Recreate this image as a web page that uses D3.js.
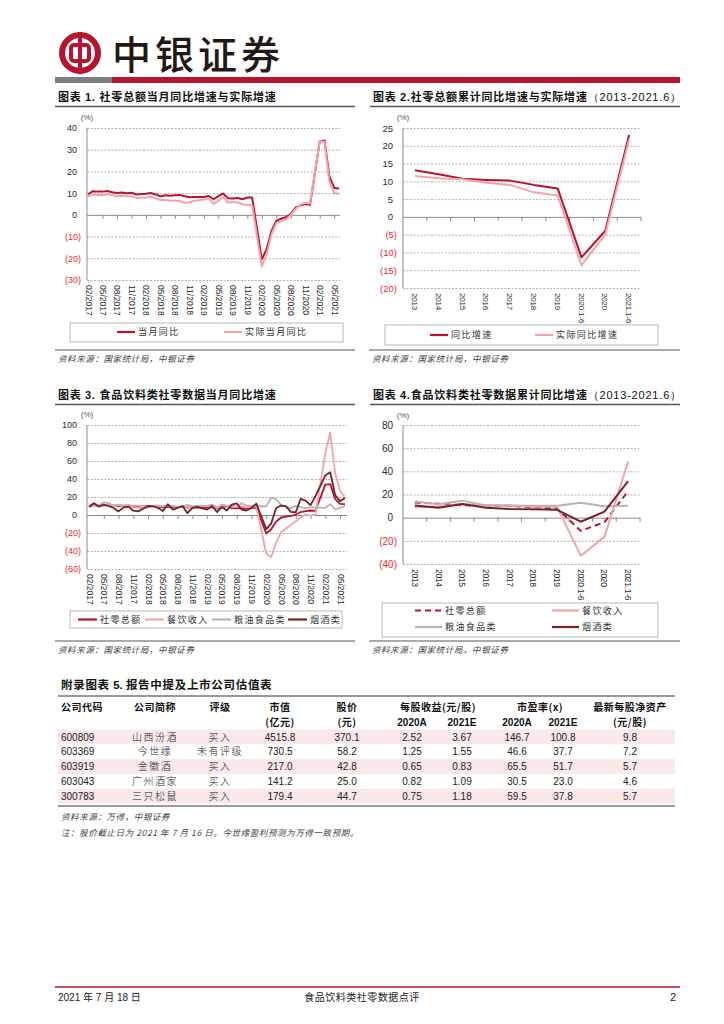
<!DOCTYPE html>
<html><head><meta charset="utf-8">
<script src="https://cdn.jsdelivr.net/npm/d3@7/dist/d3.min.js"></script>
<style>
html,body{margin:0;padding:0;background:#fff;}
svg{display:block}
text{font-family:"Liberation Sans",Arial,"Noto Sans CJK SC",sans-serif;}
</style></head><body>
<script>
// ================= DATA =================
const months=["02/2017","03/2017","04/2017","05/2017","06/2017","07/2017","08/2017","09/2017","10/2017","11/2017","12/2017",
"01/2018","02/2018","03/2018","04/2018","05/2018","06/2018","07/2018","08/2018","09/2018","10/2018","11/2018","12/2018",
"01/2019","02/2019","03/2019","04/2019","05/2019","06/2019","07/2019","08/2019","09/2019","10/2019","11/2019","12/2019",
"01/2020","02/2020","03/2020","04/2020","05/2020","06/2020","07/2020","08/2020","09/2020","10/2020","11/2020","12/2020",
"01/2021","02/2021","03/2021","04/2021","05/2021","06/2021"];
const monthTicks=["02/2017","05/2017","08/2017","11/2017","02/2018","05/2018","08/2018","11/2018","02/2019","05/2019","08/2019","11/2019","02/2020","05/2020","08/2020","11/2020","02/2021","05/2021"];

// Chart 1: 社零总额当月同比 / 实际当月同比
const retailMonthly=[9.5,10.9,10.7,10.7,11.0,10.4,10.1,10.3,10.0,10.2,9.4,
 null,9.7,10.1,9.4,8.5,9.0,8.8,9.0,9.2,8.6,8.1,8.2,
 null,8.2,8.7,7.2,8.6,9.8,7.6,7.5,7.8,7.2,8.0,8.0,
 null,-20.5,-15.8,-7.5,-2.8,-1.8,-1.1,0.5,3.3,4.3,5.0,4.6,
 null,33.8,34.2,17.7,12.4,12.1];
const realMonthly=[8.5,9.4,9.1,9.1,9.5,9.0,8.6,8.8,8.6,8.6,7.8,
 null,8.0,8.4,7.6,6.8,7.0,6.5,6.5,6.4,5.6,5.8,6.5,
 null,7.1,7.6,5.1,6.4,8.2,5.7,5.8,5.8,4.9,4.6,4.5,
 null,-23.7,-18.1,-9.1,-3.7,-3.0,-2.1,0.0,2.7,4.6,5.6,5.2,
 null,34.0,33.6,15.5,10.1,9.7];

// Chart 2: 累计同比 (annual)
const annualCats=["2013","2014","2015","2016","2017","2018","2019","2020.1-6","2020","2021.1-6"];
const cumNominal=[13.1,12.0,10.7,10.4,10.2,9.0,8.0,-11.4,-3.9,23.0];
const cumReal=[11.5,10.9,10.6,9.6,9.0,6.9,6.0,-13.6,-4.9,21.8];

// Chart 3: 食品饮料类当月同比
const cateringMonthly=[10.4,11.1,10.7,11.0,11.5,11.0,11.4,10.3,11.1,10.4,10.5,
 null,8.8,10.1,9.6,9.9,10.2,9.5,9.1,9.4,9.1,8.6,10.5,
 null,9.7,9.9,7.8,10.4,10.4,8.9,9.0,9.6,8.4,9.0,9.4,
 null,-43.1,-46.8,-31.1,-18.9,-15.2,-11.0,-7.0,-2.9,0.8,-0.6,0.4,
 null,68.9,91.6,46.4,26.6,20.0];
const grainMonthly=[10.3,12.9,10.8,14.0,13.2,9.9,11.6,9.4,9.8,8.4,8.0,
 null,8.3,10.3,10.5,9.5,9.9,10.0,8.9,9.4,11.3,9.7,10.2,
 null,10.1,11.7,8.2,11.8,10.0,10.4,9.2,13.1,10.3,10.5,9.7,
 null,9.7,19.2,17.5,11.3,9.5,7.7,10.2,8.7,7.7,8.5,8.4,
 null,8.0,12.0,6.3,8.0,10.2];
const tobaccoMonthly=[8.9,13.0,9.3,11.5,10.0,7.8,4.0,8.5,9.3,4.8,4.0,
 null,10.0,9.5,8.0,4.4,12.0,6.0,8.0,10.0,2.0,8.0,9.0,
 null,6.0,10.0,3.3,9.0,5.0,11.5,13.0,6.0,5.0,8.0,12.6,
 null,-15.7,-9.5,7.5,10.5,9.5,3.5,3.0,18.0,16.0,11.0,21.0,
 null,44.0,47.5,22.0,15.5,19.0];

// Chart 4: 食品饮料类累计同比 (annual)
const retailCum=[13.1,12.0,10.7,10.4,10.2,9.0,8.0,-11.4,-3.9,23.0];
const cateringCum=[9.0,9.7,11.7,10.8,10.7,9.5,9.4,-32.8,-16.6,48.6];
const grainCum=[14.0,11.5,14.7,10.5,10.2,10.2,10.2,12.8,9.9,10.2];
const tobaccoCum=[10.6,8.6,11.8,8.6,7.4,7.2,6.8,-3.5,5.2,31.6];

// tick labels
const yTicks1=[-30,-20,-10,0,10,20,30,40];
const yTicks2=[-20,-15,-10,-5,0,5,10,15,20,25];
const yTicks3=[-60,-40,-20,0,20,40,60,80,100];
const yTicks4=[-40,-20,0,20,40,60,80];

// Table 5
const tblCodes=["600809","603369","603919","603043","300783"];
const tblNames=["山西汾酒","今世缘","金徽酒","广州酒家","三只松鼠"];
const tblRatings=["买入","未有评级","买入","买入","买入"];
const tblMktCap=[4515.8,730.5,217.0,141.2,179.4];
const tblPrice=[370.1,58.2,42.8,25.0,44.7];
const tblEps2020=[2.52,1.25,0.65,0.82,0.75];
const tblEps2021=[3.67,1.55,0.83,1.09,1.18];
const tblPe2020=[146.7,46.6,65.5,30.5,59.5];
const tblPe2021=[100.8,37.7,51.7,23.0,37.8];
const tblBvps=[9.8,7.2,5.7,4.6,5.7];

// ================= DRAW =================
const RED="#b8132f", PINK="#f3a4aa", GRAY="#b5b5b5", BROWN="#7a1f27";
const CN='"Noto Sans CJK SC",sans-serif';
const LAT='"Liberation Sans",Arial,sans-serif';
const svg=d3.select("body").append("svg").attr("width",724).attr("height",1024);

// ---- header ----
const logo=svg.append("g");
logo.append("circle").attr("cx",80).attr("cy",53).attr("r",18).attr("fill","none").attr("stroke",RED).attr("stroke-width",6);
logo.append("rect").attr("x",71).attr("y",45).attr("width",18).attr("height",16).attr("rx",3).attr("fill","none").attr("stroke",RED).attr("stroke-width",4);
logo.append("line").attr("x1",80).attr("x2",80).attr("y1",32).attr("y2",74).attr("stroke",RED).attr("stroke-width",4);
svg.append("text").attr("x",112).attr("y",69).attr("font-size",39).attr("letter-spacing",4)
  .style("font-family",CN).attr("font-weight",500).attr("fill","#231815").text("中银证券");
svg.append("rect").attr("x",55).attr("y",77).attr("width",625).attr("height",6).attr("fill",RED);
svg.append("rect").attr("x",55).attr("y",77).attr("width",57).attr("height",6).attr("fill","#7f7f7f");

// ---- section titles ----
function title(x,y,parts,x2){
  const t=svg.append("text").attr("x",x).attr("y",y).attr("font-size",11).attr("fill","#111");
  parts.forEach(p=>t.append("tspan").attr("font-weight",p[1]?700:400).style("font-family",p[2]||CN).attr("letter-spacing",p[3]||0.8).text(p[0]));
  svg.append("line").attr("x1",x-3).attr("x2",x2).attr("y1",y+5.5).attr("y2",y+5.5).attr("stroke","#555").attr("stroke-width",1.3);
}
title(58,101,[["图表 ",1],["1. ",1,LAT,0],["社零总额当月同比增速与实际增速",1]],355);
title(373,101,[["图表 ",1],["2.",1,LAT,0],["社零总额累计同比增速与实际增速",1],["（2013-2021.6）",0,LAT,0]],680);
title(58,399,[["图表 ",1],["3. ",1,LAT,0],["食品饮料类社零数据当月同比增速",1]],355);
title(373,399,[["图表 ",1],["4.",1,LAT,0],["食品饮料类社零数据累计同比增速",1],["（2013-2021.6）",0,LAT,0]],680);

function fmtY(v){return v<0?"("+(-v)+")":String(v);}

function frame(cfg,y){
  const w=cfg.right-cfg.left;
  const grid=svg.append("g").attr("transform",`translate(${cfg.left},0)`)
    .call(d3.axisLeft(y).tickValues(cfg.yTicks).tickSize(-w).tickFormat(""));
  grid.select(".domain").remove();
  grid.selectAll(".tick line").attr("stroke",d=>d===0?"#8c8c8c":"#9d9d9d").attr("stroke-width",d=>d===0?1:0.8)
    .attr("stroke-dasharray",d=>d===0?null:"2,1.5");
  svg.append("line").attr("x1",cfg.left).attr("x2",cfg.left)
    .attr("y1",y(d3.max(cfg.yTicks))).attr("y2",y(d3.min(cfg.yTicks))).attr("stroke","#8c8c8c");
  const yl=svg.append("g").attr("transform",`translate(${cfg.left},0)`)
    .call(d3.axisLeft(y).tickValues(cfg.yTicks).tickSize(0).tickPadding(0).tickFormat(fmtY));
  yl.attr("font-size",cfg.yFont).attr("font-family",LAT);
  yl.select(".domain").remove();
  yl.selectAll("text").attr("x",d=>d<0?-6:-10).attr("fill",d=>d<0?"#f0282d":"#2b2b2b");
  svg.append("text").attr("x",cfg.left).attr("y",cfg.unitY).attr("text-anchor","middle")
    .attr("font-size",8).attr("fill","#555").text("(%)");
}
function xLabels(x,ticks,yPos,size,ls){
  const xl=svg.append("g").attr("transform",`translate(0,${yPos})`)
    .call(d3.axisBottom(x).tickValues(ticks).tickSize(0).tickPadding(0));
  xl.attr("font-size",size).attr("font-family",LAT);
  xl.select(".domain").remove();
  xl.selectAll("text").attr("transform","rotate(90)").attr("x",4).attr("y",0).attr("dy","0.35em")
    .attr("text-anchor","start").attr("letter-spacing",ls||0).attr("fill","#2b2b2b");
}
function monthChart(cfg){
  const y=d3.scaleLinear().domain(d3.extent(cfg.yTicks)).range([cfg.bottom,cfg.top]);
  const x=d3.scalePoint().domain(months).range(cfg.xRange);
  frame(cfg,y);
  const tk=svg.append("g").attr("transform",`translate(0,${y(0)})`)
    .call(d3.axisBottom(x).tickValues(monthTicks.slice(1)).tickSize(4).tickFormat(""));
  tk.select(".domain").remove();
  tk.selectAll("line").attr("stroke","#8c8c8c");
  xLabels(x,monthTicks,cfg.bottom+1,cfg.xFont,cfg.xLs);
  const line=d3.line().x(d=>x(d.m)).y(d=>y(d.v));
  cfg.series.forEach(s=>{
    const pts=months.map((m,i)=>({m,v:s.values[i]})).filter(d=>d.v!==null);
    svg.append("path").datum(pts).attr("d",line).attr("fill","none").attr("stroke",s.color)
      .attr("stroke-width",s.width).attr("stroke-linejoin","round").attr("stroke-dasharray",s.dash||null);
  });
}
function annualChart(cfg){
  const y=d3.scaleLinear().domain(d3.extent(cfg.yTicks)).range([cfg.bottom,cfg.top]);
  const x=d3.scaleBand().domain(annualCats).range([cfg.left,cfg.right]);
  frame(cfg,y);
  svg.append("g").selectAll("line").data(annualCats.slice(1).concat(["_end"])).join("line")
    .attr("x1",d=>d==="_end"?cfg.right:x(d)).attr("x2",d=>d==="_end"?cfg.right:x(d))
    .attr("y1",y(0)).attr("y2",y(0)+4).attr("stroke","#8c8c8c");
  xLabels(x,annualCats,cfg.bottom+1,cfg.xFont,cfg.xLs);
  const line=d3.line().x(d=>x(d.c)+x.bandwidth()/2).y(d=>y(d.v));
  cfg.series.forEach(s=>{
    const pts=annualCats.map((c,i)=>({c,v:s.values[i]}));
    svg.append("path").datum(pts).attr("d",line).attr("fill","none").attr("stroke",s.color)
      .attr("stroke-width",s.width).attr("stroke-linejoin","round").attr("stroke-dasharray",s.dash||null);
  });
}
function legend(box,items){
  svg.append("rect").attr("x",box[0]).attr("y",box[1]).attr("width",box[2]-box[0]).attr("height",box[3]-box[1])
    .attr("fill","none").attr("stroke","#a6a6a6").attr("stroke-width",0.8);
  items.forEach(it=>{
    svg.append("line").attr("x1",it.x).attr("x2",it.x+it.len).attr("y1",it.y).attr("y2",it.y)
      .attr("stroke",it.color).attr("stroke-width",2.2).attr("stroke-dasharray",it.dash||null);
    svg.append("text").attr("x",it.x+it.len+3).attr("y",it.y+3.3).attr("font-size",9).style("font-family",CN)
      .attr("letter-spacing",1.4).attr("fill","#333").text(it.label);
  });
}
function source(x,y,x2,txt){
  svg.append("line").attr("x1",x-3).attr("x2",x2).attr("y1",y-12).attr("y2",y-12).attr("stroke","#555").attr("stroke-width",1);
  svg.append("text").attr("x",x).attr("y",y).attr("font-size",8.5).style("font-family",CN).attr("font-style","italic")
    .attr("fill","#444").attr("letter-spacing",0.6).text(txt);
}

// Chart 1
monthChart({left:87,right:340,top:128,bottom:280,xRange:[88,339],yTicks:yTicks1,yFont:9,xFont:8.5,unitY:120,
  series:[{values:retailMonthly,color:RED,width:2},{values:realMonthly,color:PINK,width:2}]});
legend([70,323,343,342],[{x:117,y:332,len:18,color:RED,label:"当月同比"},{x:224,y:332,len:18,color:PINK,label:"实际当月同比"}]);
source(58,362,355,"资料来源：国家统计局，中银证券");

// Chart 2
annualChart({left:403,right:641,top:128,bottom:288,yTicks:yTicks2,yFont:9.5,xFont:8,xLs:-0.2,unitY:120,
  series:[{values:cumNominal,color:RED,width:2},{values:cumReal,color:PINK,width:2}]});
legend([385,325,658,345],[{x:430,y:335,len:18,color:RED,label:"同比增速"},{x:535,y:335,len:18,color:PINK,label:"实际同比增速"}]);
source(372,362,680,"资料来源：国家统计局，中银证券");

// Chart 3
monthChart({left:87,right:347,top:425,bottom:569,xRange:[89,345],yTicks:yTicks3,yFont:9,xFont:8.5,unitY:417,
  series:[{values:retailMonthly,color:RED,width:1.8},{values:cateringMonthly,color:PINK,width:1.8},
          {values:grainMonthly,color:GRAY,width:1.8},{values:tobaccoMonthly,color:BROWN,width:1.8}]});
legend([70,611,342,628],[{x:78,y:619.5,len:19,color:RED,label:"社零总额"},{x:145,y:619.5,len:19,color:PINK,label:"餐饮收入"},
  {x:212,y:619.5,len:19,color:GRAY,label:"粮油食品类"},{x:288,y:619.5,len:19,color:BROWN,label:"烟酒类"}]);
source(58,653,355,"资料来源：国家统计局，中银证券");

// Chart 4
annualChart({left:403,right:640,top:425,bottom:564,yTicks:yTicks4,yFont:10,xFont:8.5,xLs:-0.3,unitY:418,
  series:[{values:retailCum,color:RED,width:2,dash:"6,4"},{values:cateringCum,color:PINK,width:2},
          {values:grainCum,color:GRAY,width:2},{values:tobaccoCum,color:BROWN,width:2}]});
legend([382,603,658,637],[{x:415,y:610.5,len:27,color:RED,dash:"6,4",label:"社零总额"},{x:552,y:610.5,len:27,color:PINK,label:"餐饮收入"},
  {x:415,y:627,len:27,color:GRAY,label:"粮油食品类"},{x:552,y:627,len:27,color:BROWN,label:"烟酒类"}]);
source(372,653,680,"资料来源：国家统计局，中银证券");

// ---- Table ----
svg.append("text").attr("x",61).attr("y",689).attr("font-size",11.5).attr("fill","#111")
  .call(t=>{t.append("tspan").style("font-family",CN).attr("font-weight",700).attr("letter-spacing",0.7).text("附录图表 ");
           t.append("tspan").attr("font-weight",700).text("5. ");
           t.append("tspan").style("font-family",CN).attr("font-weight",700).attr("letter-spacing",0.7).text("报告中提及上市公司估值表");});
svg.append("line").attr("x1",58).attr("x2",675).attr("y1",696).attr("y2",696).attr("stroke","#777").attr("stroke-width",1.5);
const rowY=d3.scaleBand().domain(d3.range(tblCodes.length)).range([729.5,803.5]);
svg.append("g").selectAll("rect").data(d3.range(tblCodes.length).filter(i=>i%2===0)).join("rect")
  .attr("x",58).attr("width",617).attr("y",i=>rowY(i)).attr("height",rowY.bandwidth()).attr("fill","#fbe8ea");
svg.append("line").attr("x1",58).attr("x2",675).attr("y1",806).attr("y2",806).attr("stroke","#777").attr("stroke-width",1.5);
function hdr(x,y,txt,anchor,lat){
  svg.append("text").attr("x",x).attr("y",y).attr("font-size",10).attr("font-weight",700).attr("text-anchor",anchor||"middle")
    .style("font-family",lat?LAT:CN).attr("fill","#111").attr("letter-spacing",lat?0:0.5).text(txt);
}
hdr(61,711,"公司代码","start");hdr(155,711,"公司简称");hdr(220,711,"评级");
hdr(280,711,"市值");hdr(280,726,"(亿元)");hdr(347,711,"股价");hdr(347,726,"(元)");
hdr(438,711,"每股收益(元/股)");hdr(412,726,"2020A","middle",true);hdr(462,726,"2021E","middle",true);
hdr(540,711,"市盈率(x)");hdr(517,726,"2020A","middle",true);hdr(563,726,"2021E","middle",true);
hdr(630,711,"最新每股净资产");hdr(630,726,"(元/股)");
const cols=[
  {vals:tblCodes,x:61,anchor:"start",cn:false},
  {vals:tblNames,x:155,cn:true},
  {vals:tblRatings,x:220,cn:true},
  {vals:tblMktCap.map(v=>v.toFixed(1)),x:280},
  {vals:tblPrice.map(v=>v.toFixed(1)),x:347},
  {vals:tblEps2020.map(v=>v.toFixed(2)),x:412},
  {vals:tblEps2021.map(v=>v.toFixed(2)),x:462},
  {vals:tblPe2020.map(v=>v.toFixed(1)),x:517},
  {vals:tblPe2021.map(v=>v.toFixed(1)),x:563},
  {vals:tblBvps.map(v=>v.toFixed(1)),x:630}];
cols.forEach(c=>{
  svg.append("g").selectAll("text").data(c.vals).join("text")
    .attr("x",c.x).attr("y",(d,i)=>rowY(i)+rowY.bandwidth()/2+3.6).attr("text-anchor",c.anchor||"middle")
    .attr("font-size",10).style("font-family",c.cn?CN:LAT).attr("letter-spacing",c.cn?1.5:0)
    .attr("font-weight",c.cn?300:400).attr("fill","#222").text(d=>d);
});
svg.append("text").attr("x",61).attr("y",820).attr("font-size",8.5).style("font-family",CN).attr("font-style","italic")
  .attr("fill","#444").attr("letter-spacing",0.6).text("资料来源：万得，中银证券");
svg.append("text").attr("x",61).attr("y",836).attr("font-size",8.5).style("font-family",CN).attr("font-style","italic")
  .attr("fill","#444").attr("letter-spacing",0.6).text("注：股价截止日为 2021 年 7 月 16 日。今世缘盈利预测为万得一致预期。");

// ---- footer ----
svg.append("line").attr("x1",55).attr("x2",680).attr("y1",987).attr("y2",987).attr("stroke",RED).attr("stroke-width",1.5);
svg.append("text").attr("x",58).attr("y",1001).attr("font-size",10).attr("fill","#222").text("2021 年 7 月 18 日");
svg.append("text").attr("x",362).attr("y",1001).attr("font-size",10).attr("text-anchor","middle").style("font-family",CN)
  .attr("fill","#222").attr("letter-spacing",0.5).text("食品饮料类社零数据点评");
svg.append("text").attr("x",676).attr("y",1001).attr("font-size",11).attr("text-anchor","end").attr("fill","#222").text("2");
</script>
</body></html>
